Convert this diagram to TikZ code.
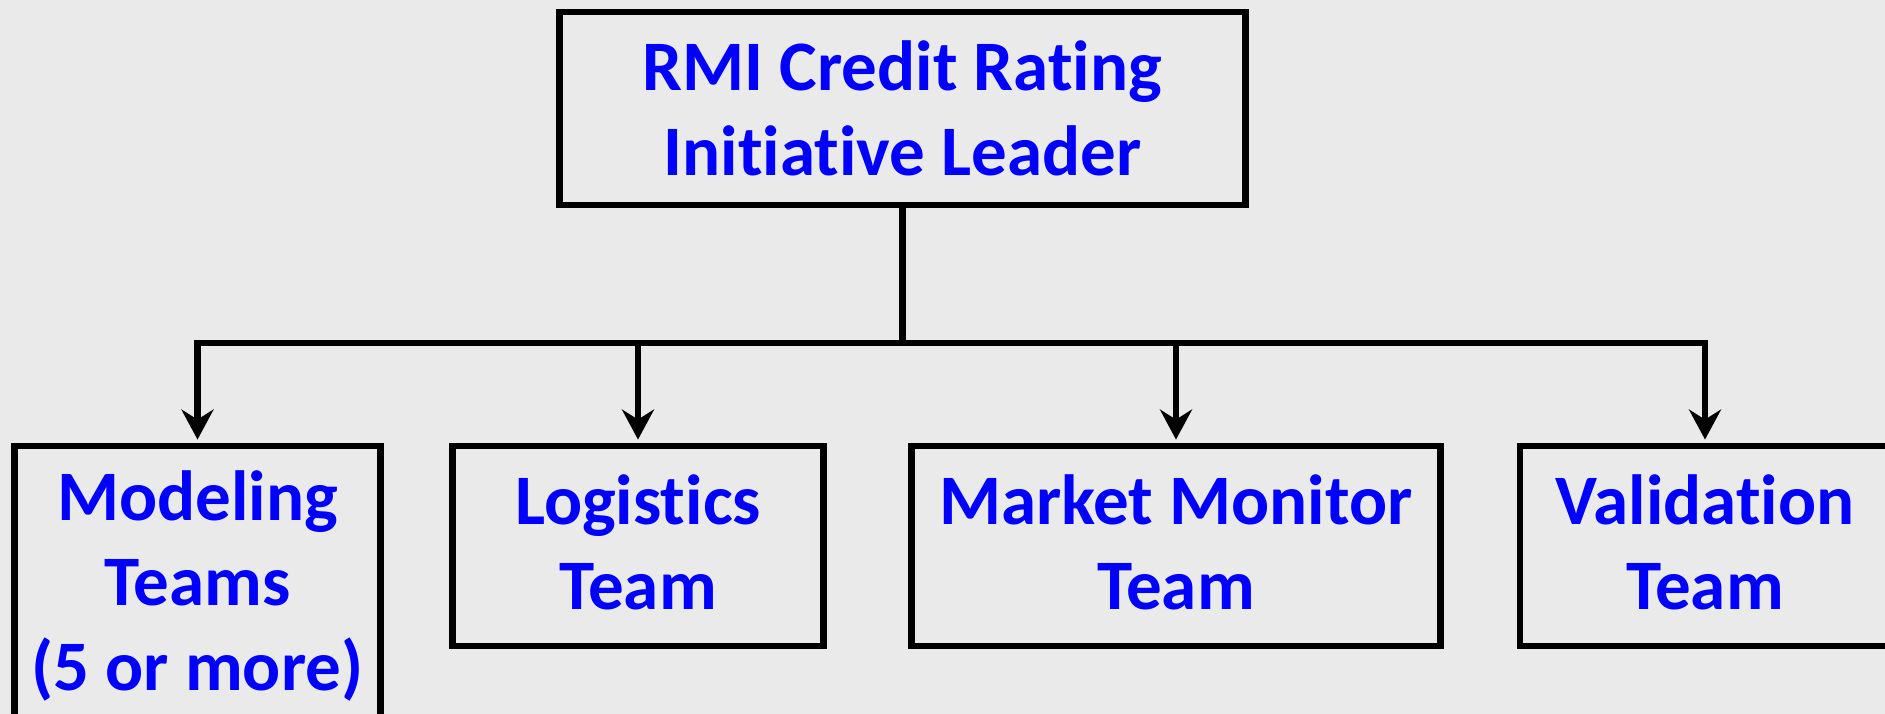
\documentclass[tikz,border=0pt]{standalone}
\usepackage{fontspec}
\setmainfont{Carlito}[Ligatures=NoCommon]
\usetikzlibrary{arrows.meta,positioning}
\definecolor{paper}{RGB}{234,234,234}
\definecolor{label}{RGB}{0,0,255}

\begin{document}
\begin{tikzpicture}[->,>={Stealth[length=0.3cm,width=0.32cm,inset=0.1cm]},
                    shorten >=0.9pt,line width=1.85pt,
                    box/.style={draw=black,align=center,inner sep=0pt,text=label,
                                font=\fontsize{20.2}{24.2}\selectfont\bfseries,
                                minimum height=2cm},
                    team/.style={box,text depth=0.08cm},
                    elbow/.style={to path={-| (\tikztotarget)}}]

  \fill[paper] (0,0) rectangle (18.85,-7.14);
  \clip (0,0) rectangle (18.85,-7.14);

  \node[box,minimum width=6.86cm,minimum height=1.93cm] (lead) at (9.025,-1.085)
       {RMI Credit Rating\\Initiative Leader};

  \node[box,minimum width=3.66cm,minimum height=2.87cm,text depth=0.18cm] (model)
       at (1.975,-5.895) {Modeling\\Teams\\(5 or more)};
  \node[team,minimum width=3.71cm] (logi)   at (6.38,-5.46)  {Logistics\\Team};
  \node[team,minimum width=5.29cm] (market) at (11.76,-5.46) {Market Monitor\\Team};
  \node[team,minimum width=3.70cm] (valid)  at (17.05,-5.46) {Validation\\Team};

  \coordinate (bus) at ([yshift=-1.35cm]lead.south);

  \path (lead.south) edge [-,shorten >=0pt] (bus)
        (bus) edge [elbow] (model.north)
              edge [elbow] (logi.north)
              edge [elbow] (market.north)
              edge [elbow] (valid.north);
\end{tikzpicture}
\end{document}
